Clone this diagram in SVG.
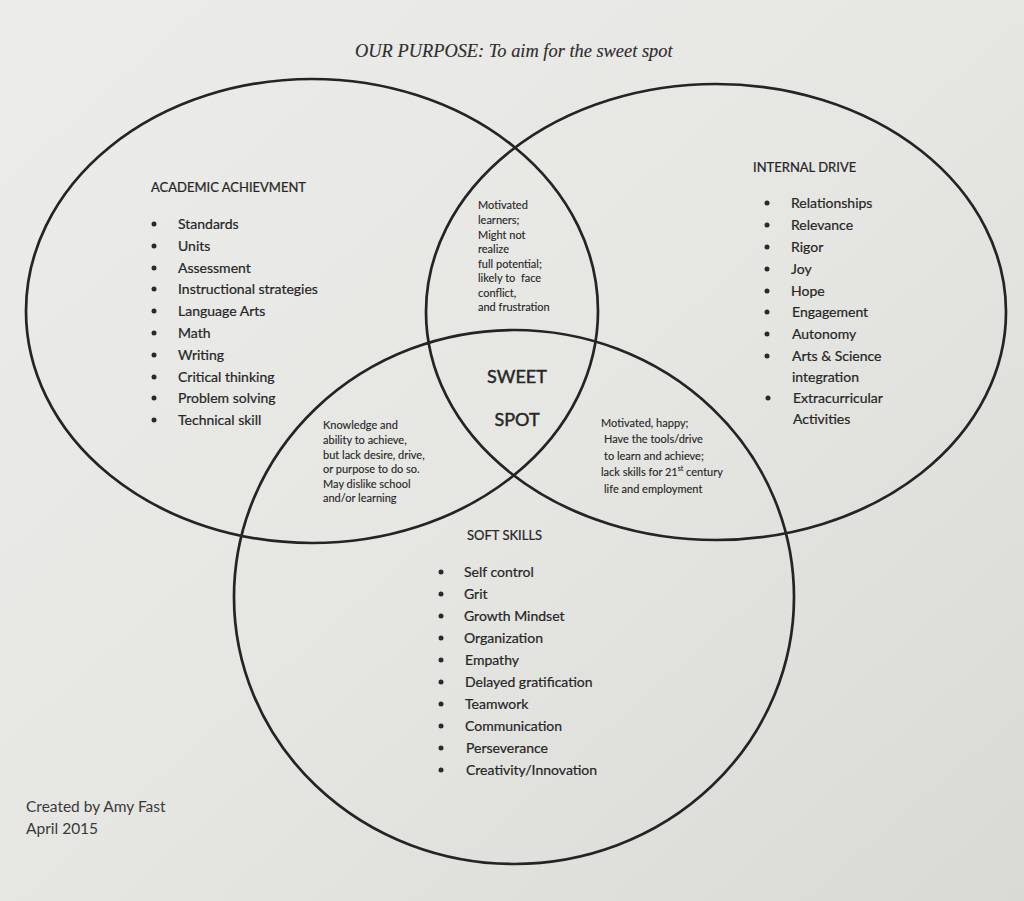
<svg xmlns="http://www.w3.org/2000/svg" width="1024" height="901" viewBox="0 0 1024 901">
<defs>
<linearGradient id="paper" x1="0" y1="0" x2="1" y2="1">
<stop offset="0" stop-color="#ececea"/>
<stop offset="0.5" stop-color="#e6e6e3"/>
<stop offset="1" stop-color="#d9d9d5"/>
</linearGradient>
<style>
.ring{fill:none;stroke:#242424;stroke-width:2.7}
.t{font-family:Lato,"Liberation Sans",sans-serif;fill:#262626;stroke:#262626;stroke-width:0.22}
.h{font-size:13px}
.li{font-size:14px}
.sm{font-size:11px;stroke-width:0.12}
.big{font-size:18px;stroke-width:0.45}
.cr{font-size:15.5px;fill:#3a3a3a;stroke:none}
.bul{fill:#2a2a2a}
.title{font-family:"Liberation Serif","DejaVu Serif",serif;font-style:italic;font-size:18.4px;fill:#2e2e2e;stroke:#2e2e2e;stroke-width:0.15}
</style>
</defs>
<rect width="1024" height="901" fill="url(#paper)"/>
<text class="title" x="355" y="57">OUR PURPOSE: To aim for the sweet spot</text>

<g id="connectors">
<ellipse id="ring-academic" class="ring" cx="312" cy="311" rx="286" ry="232"/>
<ellipse id="ring-internal" class="ring" cx="716" cy="312" rx="290" ry="228"/>
<ellipse id="ring-soft" class="ring" cx="514" cy="597" rx="280" ry="267"/>
</g>

<g id="academic">
<text class="t h" x="151" y="192">ACADEMIC ACHIEVMENT</text>
<g class="bul">
<circle cx="154" cy="224" r="2.5"/><circle cx="154" cy="246" r="2.5"/><circle cx="154" cy="268" r="2.5"/><circle cx="154" cy="289" r="2.5"/><circle cx="154" cy="311" r="2.5"/><circle cx="154" cy="333" r="2.5"/><circle cx="154" cy="355" r="2.5"/><circle cx="154" cy="377" r="2.5"/><circle cx="154" cy="398" r="2.5"/><circle cx="154" cy="420" r="2.5"/>
</g>
<text class="t li" x="178" y="229">Standards</text>
<text class="t li" x="178" y="251">Units</text>
<text class="t li" x="178" y="273">Assessment</text>
<text class="t li" x="178" y="294">Instructional strategies</text>
<text class="t li" x="178" y="316">Language Arts</text>
<text class="t li" x="178" y="338">Math</text>
<text class="t li" x="178" y="360">Writing</text>
<text class="t li" x="178" y="382">Critical thinking</text>
<text class="t li" x="178" y="403">Problem solving</text>
<text class="t li" x="178" y="425">Technical skill</text>
</g>

<g id="internal">
<text class="t h" x="753" y="172">INTERNAL DRIVE</text>
<g class="bul">
<circle cx="767" cy="203" r="2.5"/><circle cx="767" cy="225" r="2.5"/><circle cx="767" cy="247" r="2.5"/><circle cx="767" cy="269" r="2.5"/><circle cx="767" cy="291" r="2.5"/><circle cx="767" cy="312" r="2.5"/><circle cx="767" cy="334" r="2.5"/><circle cx="767" cy="356" r="2.5"/><circle cx="768" cy="398" r="2.5"/>
</g>
<text class="t li" x="791" y="208">Relationships</text>
<text class="t li" x="791" y="230">Relevance</text>
<text class="t li" x="791" y="252">Rigor</text>
<text class="t li" x="791" y="274">Joy</text>
<text class="t li" x="791" y="296">Hope</text>
<text class="t li" x="792" y="317">Engagement</text>
<text class="t li" x="792" y="339">Autonomy</text>
<text class="t li" x="792" y="361">Arts &amp; Science</text>
<text class="t li" x="792" y="382">integration</text>
<text class="t li" x="793" y="403">Extracurricular</text>
<text class="t li" x="793" y="424">Activities</text>
</g>

<g id="motivated-learners">
<text class="t sm" x="478" y="209">Motivated</text>
<text class="t sm" x="478" y="224">learners;</text>
<text class="t sm" x="478" y="239">Might not</text>
<text class="t sm" x="478" y="253">realize</text>
<text class="t sm" x="478" y="268">full potential;</text>
<text class="t sm" x="478" y="282" xml:space="preserve">likely to  face</text>
<text class="t sm" x="478" y="297">conflict,</text>
<text class="t sm" x="478" y="311">and frustration</text>
</g>

<g id="sweet-spot">
<text class="t big" x="517" y="383" text-anchor="middle">SWEET</text>
<text class="t big" x="517" y="426" text-anchor="middle">SPOT</text>
</g>

<g id="knowledge">
<text class="t sm" x="323" y="429">Knowledge and</text>
<text class="t sm" x="323" y="444">ability to achieve,</text>
<text class="t sm" x="323" y="459">but lack desire, drive,</text>
<text class="t sm" x="323" y="473">or purpose to do so.</text>
<text class="t sm" x="323" y="488">May dislike school</text>
<text class="t sm" x="323" y="502">and/or learning</text>
</g>

<g id="motivated-happy">
<text class="t sm" x="601" y="427">Motivated, happy;</text>
<text class="t sm" x="604" y="443">Have the tools/drive</text>
<text class="t sm" x="604" y="460">to learn and achieve;</text>
<text class="t sm" x="601" y="476">lack skills for 21<tspan font-size="7" dy="-5">st</tspan><tspan dy="5"> century</tspan></text>
<text class="t sm" x="604" y="493">life and employment</text>
</g>

<g id="soft">
<text class="t h" x="467" y="540">SOFT SKILLS</text>
<g class="bul">
<circle cx="441" cy="572" r="2.5"/><circle cx="441" cy="594" r="2.5"/><circle cx="441" cy="616" r="2.5"/><circle cx="441" cy="638" r="2.5"/><circle cx="441" cy="660" r="2.5"/><circle cx="441" cy="682" r="2.5"/><circle cx="441" cy="704" r="2.5"/><circle cx="441" cy="726" r="2.5"/><circle cx="441" cy="748" r="2.5"/><circle cx="441" cy="770" r="2.5"/>
</g>
<text class="t li" x="464" y="577">Self control</text>
<text class="t li" x="464" y="599">Grit</text>
<text class="t li" x="464" y="621">Growth Mindset</text>
<text class="t li" x="464" y="643">Organization</text>
<text class="t li" x="465" y="665">Empathy</text>
<text class="t li" x="465" y="687">Delayed gratification</text>
<text class="t li" x="465" y="709">Teamwork</text>
<text class="t li" x="465" y="731">Communication</text>
<text class="t li" x="466" y="753">Perseverance</text>
<text class="t li" x="466" y="775">Creativity/Innovation</text>
</g>

<g id="credit">
<text class="t cr" x="26" y="812">Created by Amy Fast</text>
<text class="t cr" x="26" y="834">April 2015</text>
</g>
</svg>
